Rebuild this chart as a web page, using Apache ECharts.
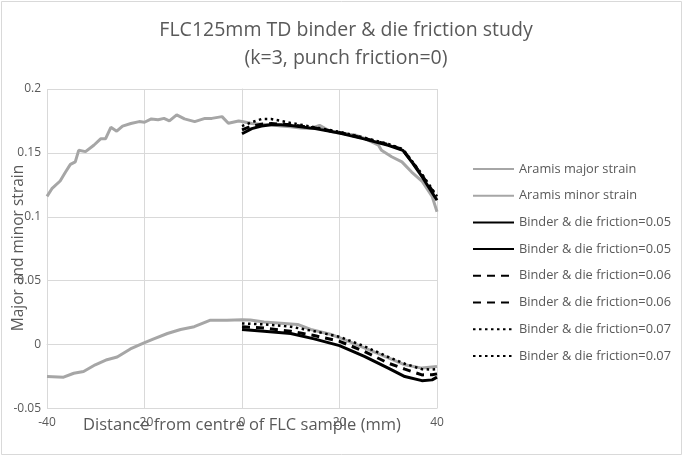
<!DOCTYPE html>
<html><head><meta charset="utf-8">
<script src="https://cdn.jsdelivr.net/npm/echarts@6/dist/echarts.min.js"></script>
<style>html,body{margin:0;padding:0;background:#fff}#c{width:685px;height:458px}</style>
</head><body><div id="c"></div>
<script>
// ---- data ----
const xTicks = [-40, -20, 0, 20, 40];
const yTicks = [-0.05, 0, 0.05, 0.1, 0.15, 0.2];

const aramisMajorX = [-40,-39,-37.3,-36.2,-35.2,-34.2,-33.5,-32.1,-30.4,-29,-28,-26.9,-25.7,-24.5,-22.8,-21.1,-20,-18.6,-17.2,-16,-14.9,-13.4,-11.8,-9.7,-7.6,-6.2,-4.1,-2.8,-0.7,0,2,4,6,8,10,12,14,15.9,18,20,23.2,25,28,28.6,30.7,32.8,34.8,36.9,39,40];
const aramisMajorY = [0.116,0.122,0.128,0.135,0.141,0.143,0.152,0.151,0.156,0.161,0.161,0.170,0.167,0.171,0.173,0.1745,0.174,0.1766,0.176,0.177,0.175,0.1797,0.1766,0.1745,0.177,0.177,0.1784,0.1732,0.175,0.1745,0.173,0.1725,0.172,0.171,0.1705,0.1695,0.169,0.1715,0.167,0.1654,0.164,0.1615,0.156,0.152,0.147,0.143,0.135,0.128,0.116,0.104];

const aramisMinorX = [-40,-36.6,-34.5,-32.5,-30.1,-27.7,-25.6,-22.9,-20.1,-18.1,-15.3,-12.6,-9.8,-6.6,-3.1,0,1.7,4.5,11.4,14.1,18.3,21,25.1,29.3,33.4,36.9,40];
const aramisMinorY = [-0.025,-0.0255,-0.0224,-0.021,-0.0158,-0.0118,-0.0097,-0.0034,0.0013,0.0045,0.0087,0.0118,0.014,0.019,0.019,0.0195,0.0192,0.0176,0.0158,0.0118,0.0079,0.0039,-0.0026,-0.0092,-0.0158,-0.0184,-0.0171];

const femX = [0,2,4,6,8,10,15,20,25,30,33,35,37,40];
const major005 = [0.165,0.169,0.171,0.172,0.172,0.1715,0.169,0.1655,0.161,0.156,0.152,0.142,0.131,0.113];
const major006 = [0.168,0.171,0.1725,0.173,0.1725,0.172,0.1695,0.166,0.1615,0.1565,0.1525,0.1425,0.132,0.115];
const major007 = [0.171,0.174,0.1765,0.1765,0.175,0.1735,0.170,0.1665,0.162,0.157,0.153,0.143,0.133,0.116];

const femMinorX = [0,4.5,10,14.8,20,25.1,30,33.4,36.9,39,40];
const minor005 = [0.0118,0.0105,0.0087,0.0045,-0.0008,-0.0092,-0.0184,-0.025,-0.0282,-0.0276,-0.0255];
const minor006 = [0.014,0.0129,0.0105,0.0071,0.0026,-0.0053,-0.0145,-0.0192,-0.0237,-0.0236,-0.0229];
const minor007 = [0.0166,0.0158,0.014,0.0105,0.0061,-0.0013,-0.0097,-0.015,-0.0192,-0.0195,-0.0192];

const titleLines = ['FLC125mm TD binder & die friction study', '(k=3, punch friction=0)'];
const seriesNames = ['Aramis major strain','Aramis minor strain','Binder & die friction=0.05','Binder & die friction=0.05\u200b','Binder & die friction=0.06','Binder & die friction=0.06\u200b','Binder & die friction=0.07','Binder & die friction=0.07\u200b'];

// ---- build ----
const zip = (xs, ys) => xs.map((x, i) => [x, ys[i]]);
const FONT = 'Open Sans';
const TXT = '#595959';
const GRID = '#d9d9d9';
const GREY = '#a6a6a6';

function line(name, data, color, width, type) {
  return {
    type: 'line', name, data, showSymbol: false, symbol: 'none', smooth: false,
    lineStyle: { color, width, type }, itemStyle: { color }, z: 3
  };
}

const series = [
  line(seriesNames[0], zip(aramisMajorX, aramisMajorY), GREY, 3, 'solid'),
  line(seriesNames[1], zip(aramisMinorX, aramisMinorY), GREY, 3, 'solid'),
  line(seriesNames[2], zip(femX, major005), '#000', 3, 'solid'),
  line(seriesNames[3], zip(femMinorX, minor005), '#000', 3, 'solid'),
  line(seriesNames[4], zip(femX, major006), '#000', 3, [8, 6]),
  line(seriesNames[5], zip(femMinorX, minor006), '#000', 3, [8, 6]),
  line(seriesNames[6], zip(femX, major007), '#000', 2.5, [2.5, 3.5]),
  line(seriesNames[7], zip(femMinorX, minor007), '#000', 2.5, [2.5, 3.5])
];

const titleStyle = { fontFamily: FONT, fontSize: 19.5, fontWeight: 'normal', color: TXT };
const chart = echarts.init(document.getElementById('c'), null, { renderer: 'canvas' });
chart.setOption({
  animation: false,
  backgroundColor: '#fff',
  title: [
    { text: titleLines[0], left: 341, textAlign: 'center', top: 15, textStyle: titleStyle },
    { text: titleLines[1], left: 341, textAlign: 'center', top: 43, textStyle: titleStyle }
  ],
  grid: { left: 47, right: 248, top: 89, bottom: 49.5, containLabel: false },
  xAxis: {
    type: 'value', min: xTicks[0], max: xTicks[xTicks.length - 1], interval: 20,
    axisLine: { onZero: true, lineStyle: { color: GRID, width: 1 } },
    axisTick: { show: false },
    splitLine: { show: true, lineStyle: { color: GRID, width: 1 } },
    axisLabel: { color: TXT, fontFamily: FONT, fontSize: 12, margin: 8 }
  },
  yAxis: {
    type: 'value', min: yTicks[0], max: yTicks[yTicks.length - 1], interval: 0.05,
    axisLine: { onZero: true, lineStyle: { color: GRID, width: 1 } },
    axisTick: { show: false },
    splitLine: { show: true, lineStyle: { color: GRID, width: 1 } },
    axisLabel: { color: TXT, fontFamily: FONT, fontSize: 12, margin: 6,
      formatter: v => String(+v.toFixed(2)) }
  },
  legend: {
    orient: 'vertical', left: 467, top: 156,
    itemWidth: 41, itemHeight: 16, itemGap: 10.7,
    data: seriesNames,
    itemStyle: { opacity: 0 },
    textStyle: { color: TXT, fontFamily: FONT, fontSize: 12.8, lineHeight: 16 },
    formatter: n => n.replace(/\u200b/g, '')
  },
  graphic: [
    { type: 'rect', shape: { x: 1.5, y: 1.5, width: 680, height: 453 }, style: { fill: 'none', stroke: GRID, lineWidth: 1 }, silent: true },
    { type: 'text', x: 242, y: 425, style: { text: 'Distance from centre of FLC sample (mm)', fill: TXT, font: '16.5px "Open Sans"', textAlign: 'center', textVerticalAlign: 'middle' } },
    { type: 'text', x: 19, y: 248, rotation: Math.PI / 2, style: { text: 'Major and minor strain', fill: TXT, font: '15.5px "Open Sans"', textAlign: 'center', textVerticalAlign: 'middle' } }
  ],
  series
});
</script></body></html>
